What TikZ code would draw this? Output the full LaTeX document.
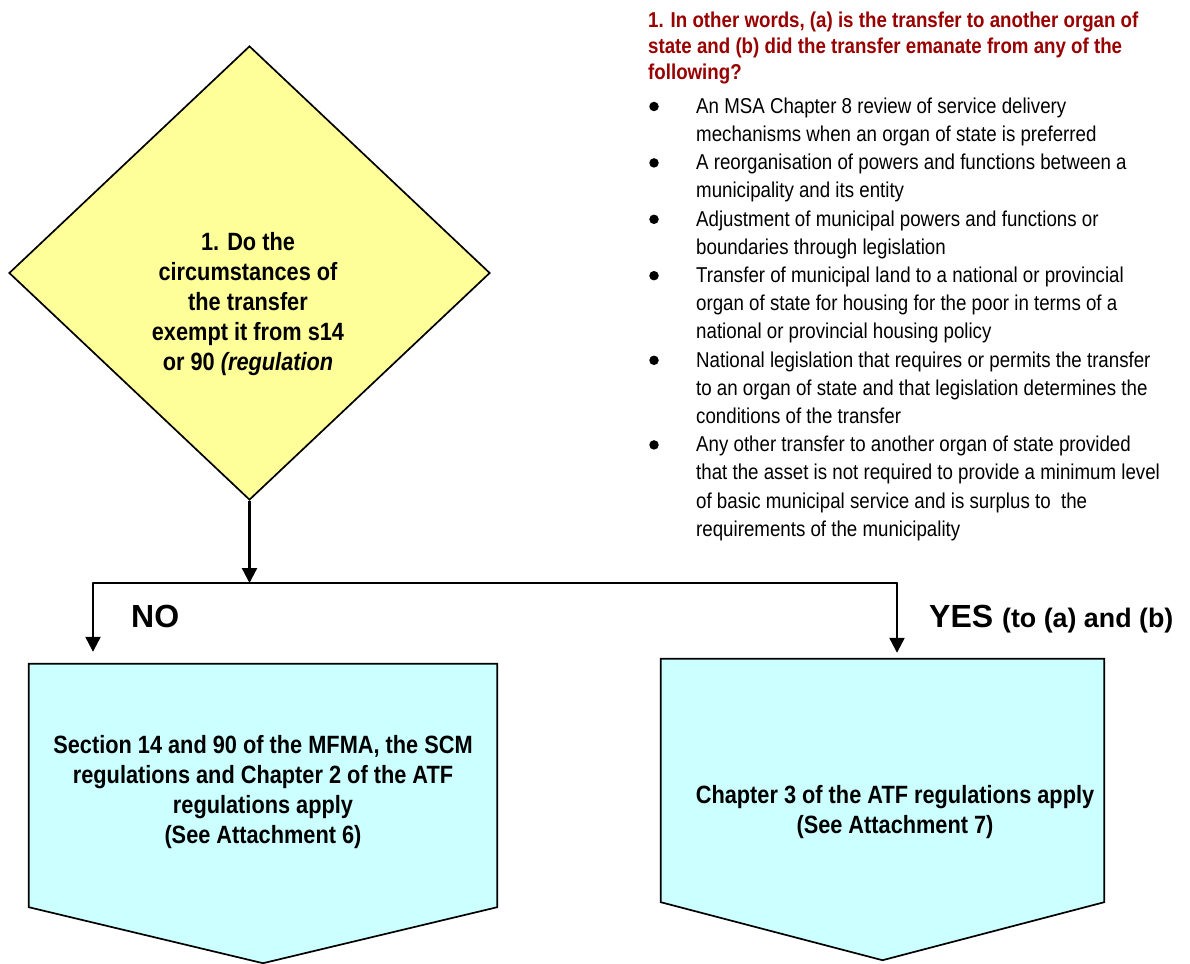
\documentclass[tikz,border=0pt]{standalone}
\usepackage{fontspec}
\setmainfont{Liberation Sans}
\newfontfamily\narrowsans[FakeStretch=0.87]{Liberation Sans}
\usetikzlibrary{shapes.geometric,arrows.meta,calc}
\definecolor{qyellow}{HTML}{FFFF99}
\definecolor{boxcyan}{HTML}{CCFFFF}
\definecolor{titlered}{HTML}{990000}

\begin{document}
\begin{tikzpicture}[x=1pt,y=-1pt,
  shapeline/.style={draw=black,line width=1.7pt,line join=miter},
  conn/.style={draw=black,line width=2.3pt},
  arrow/.style={conn,-{Triangle[length=15pt,width=15pt]}},
  boldtext/.style={align=center,inner sep=0pt,
    font=\narrowsans\bfseries\fontsize{25}{30}\selectfont},
  listtext/.style={anchor=north west,align=left,inner sep=0pt,
    font=\narrowsans\fontsize{21.5}{28.2}\selectfont},
  bulletmark/.style={circle,fill=black,inner sep=0pt,minimum size=9.5pt},
  branchlabel/.style={anchor=base west,inner sep=0pt,font=\bfseries}
]
\useasboundingbox (0,0) rectangle (1190,963);

% decision diamond
\node[diamond,shapeline,fill=qyellow,minimum width=481pt,minimum height=454pt,
      inner sep=0pt] (q) at (249.5,273) {};
\node[boldtext] (qtext) at (248,304)
  {1. Do the\\circumstances of\\the transfer\\exempt it from s14\\or 90 \textit{(regulation}};

% outcome boxes (pentagons pointing down)
\node[minimum width=468pt,minimum height=243pt,inner sep=0pt] (nobox) at (263,785.5) {};
\node[minimum width=443pt,minimum height=243pt,inner sep=0pt] (yesbox) at (882.5,780.5) {};
\draw[shapeline,fill=boxcyan] (nobox.north west) -- (nobox.north east) -- (nobox.south east)
  -- ([yshift=-56pt]nobox.south) -- (nobox.south west) -- cycle;
\draw[shapeline,fill=boxcyan] (yesbox.north west) -- (yesbox.north east) -- (yesbox.south east)
  -- ([yshift=-58pt]yesbox.south) -- (yesbox.south west) -- cycle;
\node[boldtext] (notext) at (263,792)
  {Section 14 and 90 of the MFMA, the SCM\\regulations and Chapter 2 of the ATF\\regulations apply\\(See Attachment 6)};
\node[boldtext] (yestext) at (895,812.5)
  {Chapter 3 of the ATF regulations apply\\(See Attachment 7)};

% branching connectors
\coordinate (jl) at (93,583);
\coordinate (jr) at (897,583);
\draw[arrow] (q.south) -- (q.south |- jl);
\draw[conn,line cap=round] (jl) -- (jr);
\draw[arrow] (jl) -- ([yshift=12pt]jl |- nobox.north);
\draw[arrow] (jr) -- ([yshift=6pt]jr |- yesbox.north);

\node[branchlabel,font=\bfseries\fontsize{32}{36}\selectfont] (nolabel) at (131,627) {NO};
\node[branchlabel] (yeslabel) at (929,627)
  {\fontsize{32}{36}\selectfont YES \fontsize{26.8}{30}\selectfont(to (a) and (b)};

% explanatory note
\node[listtext,font=\narrowsans\bfseries\fontsize{21.5}{26}\selectfont,text=titlered]
  (note) at (648,12)
  {1. In other words, (a) is the transfer to another organ of\\state and (b) did the transfer emanate from any of the\\following?};

\node[bulletmark] (b1) at (654,106.5) {};
\node[listtext] (i1) at (696,97.5)
  {An MSA Chapter 8 review of service delivery\\mechanisms when an organ of state is preferred};
\node[bulletmark] (b2) at (654,162.9) {};
\node[listtext] (i2) at (696,153.9)
  {A reorganisation of powers and functions between a\\municipality and its entity};
\node[bulletmark] (b3) at (654,219.3) {};
\node[listtext] (i3) at (696,210.3)
  {Adjustment of municipal powers and functions or\\boundaries through legislation};
\node[bulletmark] (b4) at (654,275.7) {};
\node[listtext] (i4) at (696,266.7)
  {Transfer of municipal land to a national or provincial\\organ of state for housing for the poor in terms of a\\national or provincial housing policy};
\node[bulletmark] (b5) at (654,360.3) {};
\node[listtext] (i5) at (696,351.3)
  {National legislation that requires or permits the transfer\\to an organ of state and that legislation determines the\\conditions of the transfer};
\node[bulletmark] (b6) at (654,444.9) {};
\node[listtext] (i6) at (696,435.9)
  {Any other transfer to another organ of state provided\\that the asset is not required to provide a minimum level\\of basic municipal service and is surplus to\ \ the\\requirements of the municipality};
\end{tikzpicture}
\end{document}
